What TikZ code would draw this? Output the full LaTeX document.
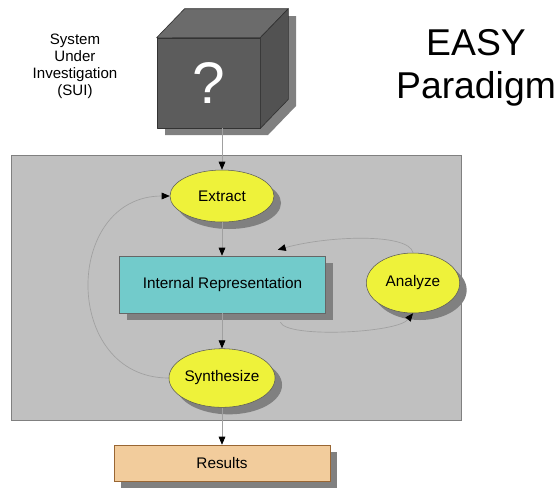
\documentclass[tikz,border=0pt]{standalone}
\usepackage{fontspec}
\setmainfont{Liberation Sans}
\usetikzlibrary{shapes.geometric}
\usetikzlibrary{arrows.meta}
\usetikzlibrary{shadows}
\definecolor{procyellow}{RGB}{238,242,58}
\definecolor{reprteal}{RGB}{114,203,203}
\definecolor{resultbeige}{RGB}{242,204,156}
\definecolor{panelgray}{RGB}{192,192,192}
\definecolor{flowgray}{RGB}{160,160,160}
\definecolor{cubeshadow}{RGB}{128,128,128}
\begin{document}
\begin{tikzpicture}[x=0.75pt,y=-0.75pt,>={Triangle[length=6pt,width=5pt,black]},
    flow/.style={->,draw=flowgray,line width=0.5pt},
    drop/.style={drop shadow={shadow xshift=5.25pt,shadow yshift=-5.25pt,fill=cubeshadow,opacity=1}},
    proc node/.style={ellipse,draw=black!65,fill=procyellow,drop,inner sep=0pt,font=\fontsize{11.5}{13}\selectfont},
    box node/.style={rectangle,draw,drop,inner sep=0pt,font=\fontsize{11.5}{13}\selectfont},
    cube face/.style={draw=black!80,line width=0.5pt,line join=round}]
    \useasboundingbox (0,0) rectangle (559,487);
    % system under investigation
    \fill[cubeshadow] (165,45) -- (193,16) -- (296,16) -- (296,106) -- (268,135) -- (165,135) -- cycle;
    \node[rectangle,cube face,fill=black!64,minimum width=77.25pt,minimum height=67.5pt,inner sep=0pt,
      text=white,font=\fontsize{44}{44}\selectfont] (sui) at (208.5,83) {?};
    \draw[cube face,fill=black!58] (sui.north west) -- ++(28,-29) -- ([shift={(28,-29)}]sui.north east)
      -- (sui.north east) -- cycle;
    \draw[cube face,fill=black!68] (sui.north east) -- ([shift={(28,-29)}]sui.north east)
      -- ([shift={(28,-29)}]sui.south east) -- (sui.south east) -- cycle;
    \node[align=center,font=\fontsize{11.3}{12.8}\selectfont] (suilabel) at (75,66)
      {System\\Under\\Investigation\\(SUI)};
    \node[align=center,font=\fontsize{28}{32}\selectfont] (title) at (476,68) {EASY\\Paradigm};
    % main panel
    \node[rectangle,draw=black!50,fill=panelgray,minimum width=337.5pt,minimum height=198.75pt] (panel) at (236,287.5) {};
    \node[proc node,minimum width=78pt,minimum height=39pt] (extract) at (222,196) {Extract};
    \node[box node,draw=black!60,fill=reprteal,minimum width=154.5pt,minimum height=42.75pt] (repr) at (222.5,284.5) {Internal Representation};
    \node[proc node,minimum width=70pt,minimum height=45pt] (analyze) at (413,283) {Analyze};
    \node[proc node,minimum width=73.5pt,minimum height=44pt] (synth) at (222,378) {Synthesize};
    \node[box node,draw=brown!80!black,fill=resultbeige,minimum width=162pt,minimum height=27pt] (results) at (222,463) {Results};
    % connectors
    \draw[flow] (sui.south -| extract.north) -- (extract.north);
    \draw[flow] (extract.south) -- (repr.north -| extract.south);
    \draw[flow] (repr.south -| synth.north) -- (synth.north);
    \draw[flow] (synth.south) -- (results.north -| synth.south);
    \draw[flow] (synth.west) .. controls +(-107,0) and +(-107,0) .. (extract.west);
    \draw[flow] (analyze.north) .. controls +(-4,-20) and +(50,-14) .. ([xshift=-36pt,yshift=4.5pt]repr.north east);
    \draw[flow] ([xshift=-34pt,yshift=-6.75pt]repr.south east) .. controls +(6,16) and +(-16,20) .. (analyze.south);
\end{tikzpicture}
\end{document}
